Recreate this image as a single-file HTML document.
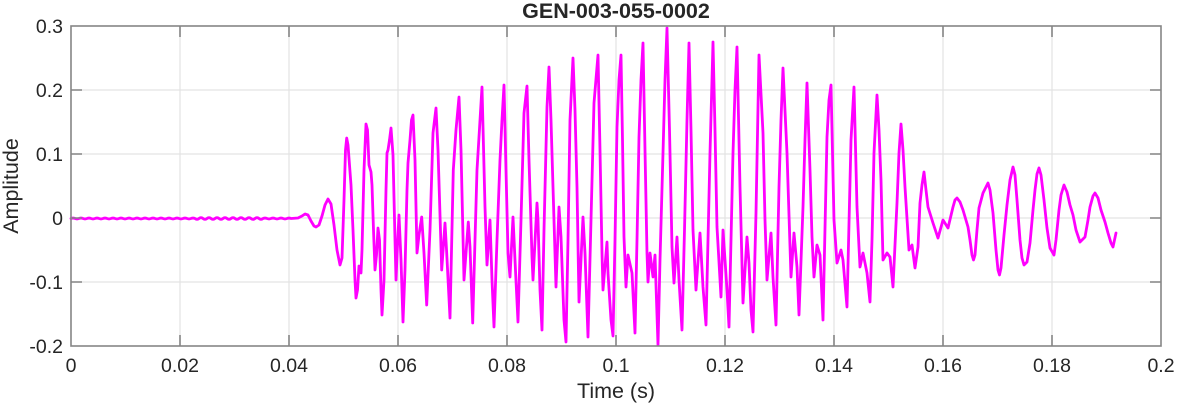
<!DOCTYPE html>
<html><head><meta charset="utf-8"><style>
html,body{margin:0;padding:0;background:#fff;}
svg{display:block;}
text{font-family:"Liberation Sans",Arial,sans-serif;fill:#262626;}
</style></head><body>
<svg width="1177" height="404" viewBox="0 0 1177 404" xmlns="http://www.w3.org/2000/svg">
<rect x="0" y="0" width="1177" height="404" fill="#fff"/>
<g stroke="#e3e3e3" stroke-width="1.2">
<line x1="180" y1="26" x2="180" y2="346"/><line x1="289" y1="26" x2="289" y2="346"/>
<line x1="398" y1="26" x2="398" y2="346"/><line x1="507" y1="26" x2="507" y2="346"/>
<line x1="616" y1="26" x2="616" y2="346"/><line x1="725" y1="26" x2="725" y2="346"/>
<line x1="834" y1="26" x2="834" y2="346"/><line x1="943" y1="26" x2="943" y2="346"/>
<line x1="1052" y1="26" x2="1052" y2="346"/>
<line x1="71" y1="90" x2="1161" y2="90"/><line x1="71" y1="154" x2="1161" y2="154"/>
<line x1="71" y1="218" x2="1161" y2="218"/><line x1="71" y1="282" x2="1161" y2="282"/>
</g>
<path fill="none" stroke="#ff00ff" stroke-width="2.8" stroke-linejoin="round" stroke-linecap="round" d="M71 218.5 Q73 217.6 75 218.5 T79 218.5 T83 218.5 T87 218.5 T91 218.5 T95 218.5 T99 218.5 T103 218.5 T107 218.5 T111 218.5 T115 218.5 T119 218.5 T123 218.5 T127 218.5 T131 218.5 T135 218.5 T139 218.5 T143 218.5 T147 218.5 T151 218.5 T155 218.5 T159 218.5 T163 218.5 T167 218.5 T171 218.5 T175 218.5 T179 218.5 T183 218.5 T187 218.5 T191 218.5 T195 218.5 Q197 220.2 199 218.5 T203 218.5 T207 218.5 T211 218.5 T215 218.5 T219 218.5 T223 218.5 T227 218.5 T231 218.5 T235 218.5 T239 218.5 T243 218.5 T247 218.5 T251 218.5 T255 218.5 T259 218.5 T263 218.5 Q265 217.6 267 218.5 T271 218.5 T275 218.5 T279 218.5 T283 218.5 T287 218.5 T291 218.5
L298 218 L302 216 L305 214 L308 215 L311 221 L314 226 L316 227 L319 225 L322 216 L325 205 L328 199 L331 204 L334 225 L337 250 L340 265 L342 258 L344 200 L345.5 150 L346.7 138 L348 145 L351 185 L353 230 L355 280 L356 298 L357.5 290 L359 266 L361 273 L362 250 L364 170 L366 124 L367.5 130 L369 165 L371 172 L372 185 L373.5 230 L375 270 L376.5 255 L378 228 L379.5 240 L381 290 L382 315 L384 280 L386 190 L387 153 L388 150 L389.5 140 L391 128 L393 155 L395 240 L396 280 L397.5 245 L399 215 L401 260 L403 322 L405 270 L407 190 L408 163 L410 140 L411.5 120 L413 115 L415 160 L417 253 L419 235 L421.7 217 L424 253 L426.7 305 L430 230 L433 133 L436 108 L438 150 L441.7 270 L445 223 L446.7 253 L450 318 L453.3 170 L456 130 L459 97 L461 150 L464 280 L468.3 222 L470 247 L472.7 323 L475 240 L477 170 L479 137 L482 87
L485 207 L487 265 L490 220 L492 280 L494 327 L497 240 L500 160 L502 120 L504 85 L506 170 L508 253 L510 277 L513 217 L515 260 L518 322 L521 220 L524 113 L527 86 L529 160 L532 257 L533 280 L537 203 L538 220 L540 290 L542 330 L544 230 L547 107 L549 67 L551 120 L553 187 L556 287 L559 207 L561 237 L564 320 L566 342 L568 240 L570 120 L573 58 L575 110 L577 187 L579 302 L583 217 L585 253 L588 337 L591 220 L594 103 L598 55 L600 150 L602 253 L603 290 L607 242 L608 273 L611 320 L613 336 L615 240 L617 127 L619 80 L621 55 L622.5 140 L624 237 L626 287 L628 255 L632 273 L635 333 L637 240 L639 137 L641 80 L643 43 L645 150 L647 253 L648 282 L650 253 L653 277 L655 255 L658 345 L660 260 L663 153 L665 80 L667 28
L669.5 130 L672 247 L674 283 L677 237 L679 280 L682 330 L684.5 230 L687 120 L689 43 L691 130 L693 230 L696 290 L700 233 L703 287 L706 325 L708 240 L710 153 L712 80 L713 42 L715 130 L717 227 L721 297 L723 230 L727 290 L729 327 L731 240 L733 153 L735 90 L737 47 L740 187 L743 303 L747 237 L749 263 L751 310 L753 332 L756 213 L759 55 L763 133 L765 220 L767 280 L771 233 L773 277 L776 325 L779 187 L781 120 L783 68 L787 153 L791 277 L794 233 L797 267 L799 315 L803 207 L805 140 L807 83 L810 170 L812 237 L814 277 L817 245 L820 255 L823 320 L827 137 L829 100 L831 85 L834 220 L837 263 L841 250 L843 260 L847 307 L851 140 L854 87
L857 207 L860 267 L863 253 L867 273 L870 302 L872 240 L874 153 L877 95 L879 130 L881 180 L883 260 L887 253 L890 257 L893 287 L897 203 L899 153 L901 124 L903 150 L905 187 L909 250 L912 245 L915 268 L918 247 L920 203 L922 185 L924 172 L926 190 L928 207 L933 223 L938 238 L943 220 L948 228 L953 207 L955 200 L957 198 L960 202 L963 210 L968 227 L970 240 L972 255 L973.5 260 L975 255 L977 230 L979 208 L983 193 L986 187 L988 183 L990 190 L993 213 L996 250 L998 270 L999.5 275 L1001 268 L1004 235 L1007 205 L1010 180 L1013 167 L1015 175 L1017 200 L1020 240 L1022 258 L1024 265 L1027 262 L1030 243 L1033 210 L1035 190 L1037 174 L1039 168 L1041 175 L1044 200 L1047 228 L1050 248 L1054 255 L1056 240 L1059 210 L1061 195 L1064 185 L1067 192 L1070 205 L1073 215 L1076 230 L1080 242 L1085 237 L1088 220 L1090 207 L1093 196 L1095 193 L1098 198 L1101 210 L1105 222 L1108 233 L1111 243 L1113 247 L1116 233"/>
<g fill="none" stroke="#858585" stroke-width="1.6">
<rect x="71" y="26" width="1090" height="320"/>
</g>
<g stroke="#858585" stroke-width="1.6">
<path d="M180 346 v-11 M289 346 v-11 M398 346 v-11 M507 346 v-11 M616 346 v-11 M725 346 v-11 M834 346 v-11 M943 346 v-11 M1052 346 v-11
M180 26 v11 M289 26 v11 M398 26 v11 M507 26 v11 M616 26 v11 M725 26 v11 M834 26 v11 M943 26 v11 M1052 26 v11
M71 90 h11 M71 154 h11 M71 218 h11 M71 282 h11
M1161 90 h-11 M1161 154 h-11 M1161 218 h-11 M1161 282 h-11"/>
</g>
<g font-size="19.5" text-anchor="middle">
<text x="71" y="372">0</text>
<text x="180" y="372">0.02</text>
<text x="289" y="372">0.04</text>
<text x="398" y="372">0.06</text>
<text x="507" y="372">0.08</text>
<text x="616" y="372">0.1</text>
<text x="725" y="372">0.12</text>
<text x="834" y="372">0.14</text>
<text x="943" y="372">0.16</text>
<text x="1052" y="372">0.18</text>
<text x="1161" y="372">0.2</text>
</g>
<g font-size="19.5" text-anchor="end">
<text x="63" y="33">0.3</text>
<text x="63" y="97">0.2</text>
<text x="63" y="161">0.1</text>
<text x="63" y="225">0</text>
<text x="63" y="289">-0.1</text>
<text x="63" y="353">-0.2</text>
</g>
<text x="616" y="398" font-size="21.5" text-anchor="middle">Time (s)</text>
<text x="18" y="186" font-size="21.5" text-anchor="middle" transform="rotate(-90 18 186)">Amplitude</text>
<text x="616" y="18" font-size="21.5" font-weight="bold" text-anchor="middle" fill="#000">GEN-003-055-0002</text>
</svg>
</body></html>
